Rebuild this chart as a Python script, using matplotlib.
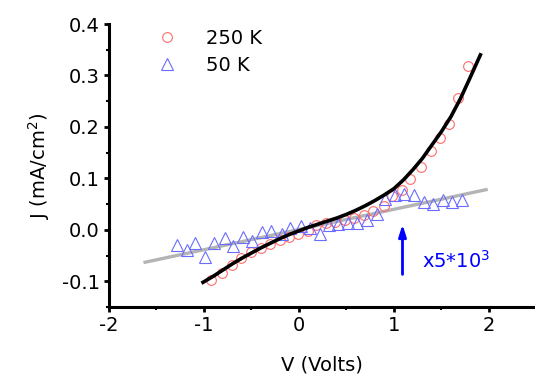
import matplotlib
matplotlib.use("Agg")
import matplotlib.pyplot as plt
from matplotlib.ticker import MultipleLocator

plt.rcParams['font.family'] = ['DejaVu Sans']

# 250 K data (circles)
v_250 = [-0.93, -0.81, -0.70, -0.61, -0.51, -0.40, -0.30, -0.20, -0.11, -0.01,
         0.09, 0.18, 0.28, 0.38, 0.48, 0.58, 0.68, 0.78, 0.89, 0.98,
         1.08, 1.17, 1.28, 1.39, 1.48, 1.58, 1.67, 1.78]
j_250 = [-0.097, -0.083, -0.069, -0.055, -0.044, -0.036, -0.028, -0.019, -0.014, -0.008,
         -0.003, 0.010, 0.013, 0.016, 0.019, 0.023, 0.029, 0.037, 0.047, 0.066,
         0.078, 0.098, 0.123, 0.154, 0.178, 0.206, 0.256, 0.318]

# 50 K data (triangles, x5*10^3)
v_50 = [-1.28, -1.18, -1.09, -0.99, -0.89, -0.78, -0.69, -0.59, -0.49, -0.39,
        -0.29, -0.18, -0.09, 0.02, 0.12, 0.22, 0.32, 0.41, 0.52, 0.61,
        0.72, 0.82, 0.91, 1.01, 1.11, 1.21, 1.32, 1.41, 1.52, 1.61, 1.72]
j_50 = [-0.029, -0.040, -0.026, -0.052, -0.026, -0.016, -0.031, -0.014, -0.021, -0.004,
        -0.003, -0.008, 0.003, 0.008, 0.003, -0.008, 0.010, 0.012, 0.014, 0.014,
        0.019, 0.030, 0.060, 0.068, 0.070, 0.068, 0.055, 0.050, 0.057, 0.055, 0.058]

# Fit curve for 250 K
v_fit = [-1.01, -0.9, -0.8, -0.7, -0.6, -0.5, -0.4, -0.3, -0.2, -0.1, 0.0, 0.1, 0.2, 0.3,
         0.4, 0.5, 0.6, 0.7, 0.8, 0.9, 1.0, 1.1, 1.2, 1.3, 1.4, 1.5, 1.6, 1.7, 1.8, 1.91]
j_fit = [-0.102, -0.090, -0.078, -0.066, -0.055, -0.045, -0.035, -0.026, -0.017, -0.009,
         -0.002, 0.005, 0.011, 0.017, 0.023, 0.030, 0.038, 0.047, 0.057, 0.068,
         0.080, 0.097, 0.117, 0.139, 0.165, 0.191, 0.220, 0.255, 0.295, 0.340]

# Linear fit for 50 K
v_lin = [-1.62, 1.97]
j_lin = [-0.063, 0.078]

x_ticks = [-2, -1, 0, 1, 2]
y_ticks = [-0.1, 0.0, 0.1, 0.2, 0.3, 0.4]
y_ticklabels = ['-0.1', '0.0', '0.1', '0.2', '0.3', '0.4']

fig = plt.figure(figsize=(5.35, 3.77), dpi=100)
ax = fig.add_axes([109/535, 70/377, 426/535, 283/377])

ax.plot(v_lin, j_lin, color='#b4b4b4', lw=2.4, zorder=2)
ax.plot(v_250, j_250, linestyle='none', marker='o', ms=7, mfc='none',
        mec='#ff6b6b', mew=0.8, label='250 K', zorder=3)
ax.plot(v_50, j_50, linestyle='none', marker='^', ms=8, mfc='none',
        mec='#6b6bff', mew=0.8, label='50 K', zorder=3)
ax.plot(v_fit, j_fit, color='black', lw=2.6, zorder=4, solid_joinstyle='round')

ax.annotate('', xy=(1.09, 0.016), xytext=(1.09, -0.092),
            arrowprops=dict(arrowstyle='-|>,head_width=0.22,head_length=0.7',
                            color='blue', lw=2))
ax.text(1.30, -0.060, 'x5*10$^3$', color='blue', fontsize=14, va='center', ha='left')

ax.set_xlim(-2.0, 2.485)
ax.set_ylim(-0.15, 0.4)
ax.set_xticks(x_ticks)
ax.set_xticklabels([str(t) for t in x_ticks])
ax.set_yticks(y_ticks)
ax.set_yticklabels(y_ticklabels)
ax.xaxis.set_minor_locator(MultipleLocator(0.5))
ax.yaxis.set_minor_locator(MultipleLocator(0.05))

for s in ['top', 'right']:
    ax.spines[s].set_visible(False)
for s in ['left', 'bottom']:
    ax.spines[s].set_linewidth(2.2)

ax.tick_params(which='major', direction='out', length=3.5, width=2, labelsize=14, pad=3)
ax.tick_params(which='minor', direction='out', length=2, width=1.5)

ax.set_xlabel('V (Volts)', fontsize=14, labelpad=15)
ax.set_ylabel('J (mA/cm$^2$)', fontsize=14, labelpad=7)

leg = ax.legend(loc='upper left', bbox_to_anchor=(0.068, 1.045), frameon=False,
                fontsize=14, handletextpad=1.4, labelspacing=0.4, handlelength=1.2)

fig.savefig('out.png', dpi=100)
